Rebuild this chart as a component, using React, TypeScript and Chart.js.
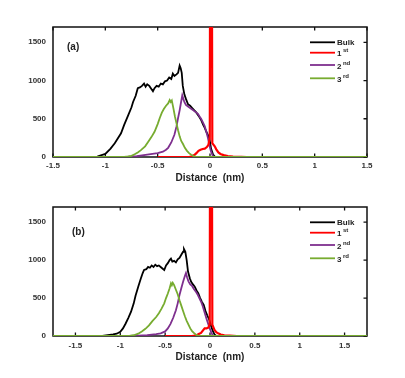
import React, { useEffect, useRef } from 'react';
import { Chart, registerables } from 'chart.js';

Chart.register(...registerables);

// ---------- data (Distance nm, count) ----------
const xTicksA = [-1.5, -1, -0.5, 0, 0.5, 1, 1.5];
const xTicksB = [-1.5, -1, -0.5, 0, 0.5, 1, 1.5];
const yTicks = [0, 500, 1000, 1500];
const legendMain = ['Bulk', '1', '2', '3'];
const legendSup = ['', 'st', 'nd', 'rd'];
const seriesColors = ['#000000', '#ff0000', '#7E2F8E', '#77AC30'];

const bulkA: [number, number][] = [
  [-1.5, 0], [-1.08, 0], [-1.07, 10], [-1.0, 40], [-0.95, 110], [-0.91, 180], [-0.85, 310], [-0.82, 420],
  [-0.78, 550], [-0.75, 650], [-0.735, 720], [-0.71, 800], [-0.69, 900], [-0.67, 910], [-0.65, 930], [-0.63, 960],
  [-0.615, 920], [-0.6, 950], [-0.58, 930], [-0.56, 890], [-0.545, 860], [-0.53, 900], [-0.51, 930], [-0.49, 920],
  [-0.47, 960], [-0.45, 950], [-0.43, 990], [-0.41, 1000], [-0.39, 1040], [-0.37, 1020], [-0.355, 1090], [-0.34, 1060],
  [-0.32, 1080], [-0.305, 1100], [-0.29, 1195], [-0.28, 1160], [-0.27, 1100], [-0.26, 930], [-0.245, 820], [-0.23, 760],
  [-0.21, 690], [-0.19, 670], [-0.17, 640], [-0.15, 610], [-0.13, 580], [-0.115, 550], [-0.1, 520], [-0.083, 480],
  [-0.065, 420], [-0.05, 380], [-0.035, 330], [-0.02, 290], [-0.005, 240], [0.01, 110], [0.03, 30], [0.05, 0], [1.5, 0],
];
const firstA: [number, number][] = [
  [-0.5, 0], [-0.2, 0], [-0.17, 10], [-0.15, 25], [-0.13, 50], [-0.11, 80], [-0.09, 95], [-0.07, 105], [-0.05, 110],
  [-0.03, 130], [-0.015, 160], [-0.002, 250], [0.004, 5000], [0.014, 5000], [0.022, 180], [0.045, 140], [0.06, 100],
  [0.08, 60], [0.1, 40], [0.13, 25], [0.17, 12], [0.22, 6], [0.3, 2], [0.35, 0], [1.5, 0],
];
const secondA: [number, number][] = [
  [-1.5, 0], [-0.8, 0], [-0.7, 10], [-0.6, 30], [-0.5, 50], [-0.45, 70], [-0.42, 95], [-0.4, 120], [-0.37, 190],
  [-0.34, 290], [-0.32, 400], [-0.305, 510], [-0.29, 610], [-0.28, 690], [-0.265, 805], [-0.255, 760], [-0.245, 720],
  [-0.23, 680], [-0.21, 660], [-0.19, 640], [-0.17, 620], [-0.15, 600], [-0.13, 580], [-0.115, 565], [-0.1, 530],
  [-0.085, 500], [-0.07, 460], [-0.05, 400], [-0.035, 330], [-0.02, 250], [-0.005, 150], [0.01, 70], [0.03, 5], [0.05, 0], [1.5, 0],
];
const thirdA: [number, number][] = [
  [-1.5, 0], [-0.82, 0], [-0.78, 8], [-0.75, 15], [-0.72, 35], [-0.69, 60], [-0.66, 90], [-0.62, 140], [-0.59, 200],
  [-0.56, 260], [-0.53, 330], [-0.5, 430], [-0.48, 510], [-0.46, 580], [-0.44, 630], [-0.42, 670], [-0.4, 700],
  [-0.385, 745], [-0.375, 720], [-0.365, 740], [-0.35, 640], [-0.335, 530], [-0.32, 440], [-0.305, 350], [-0.29, 270],
  [-0.275, 210], [-0.258, 170], [-0.24, 120], [-0.22, 80], [-0.2, 50], [-0.18, 30], [-0.16, 15], [-0.14, 5], [-0.12, 0], [1.5, 0],
];

const bulkB: [number, number][] = [
  [-1.75, 0], [-1.2, 0], [-1.14, 10], [-1.08, 20], [-1.04, 30], [-1.0, 55], [-0.97, 100], [-0.94, 165], [-0.91, 240],
  [-0.88, 320], [-0.85, 430], [-0.83, 530], [-0.8, 650], [-0.77, 760], [-0.75, 830], [-0.735, 870], [-0.71, 880],
  [-0.69, 910], [-0.67, 900], [-0.65, 930], [-0.63, 910], [-0.61, 940], [-0.59, 920], [-0.57, 930], [-0.55, 910],
  [-0.53, 890], [-0.51, 870], [-0.49, 930], [-0.47, 960], [-0.45, 1000], [-0.435, 1020], [-0.42, 980], [-0.4, 990],
  [-0.38, 970], [-0.36, 1010], [-0.34, 1030], [-0.32, 1070], [-0.3, 1110], [-0.29, 1145], [-0.275, 1110], [-0.26, 1000],
  [-0.245, 850], [-0.225, 760], [-0.21, 715], [-0.19, 680], [-0.17, 650], [-0.15, 600], [-0.13, 560], [-0.11, 500],
  [-0.09, 450], [-0.07, 410], [-0.05, 330], [-0.03, 270], [-0.01, 220], [0.01, 140], [0.03, 70], [0.05, 20], [0.07, 0], [1.75, 0],
];
const firstB: [number, number][] = [
  [-0.5, 0], [-0.2, 0], [-0.15, 10], [-0.12, 30], [-0.1, 40], [-0.08, 70], [-0.06, 100], [-0.04, 100], [-0.02, 110],
  [-0.003, 150], [0.004, 5000], [0.016, 5000], [0.026, 150], [0.05, 80], [0.07, 50], [0.09, 35], [0.12, 20],
  [0.16, 10], [0.22, 5], [0.3, 0], [1.75, 0],
];
const secondB: [number, number][] = [
  [-1.75, 0], [-0.9, 0], [-0.8, 5], [-0.7, 12], [-0.6, 25], [-0.55, 35], [-0.5, 60], [-0.47, 100], [-0.44, 160],
  [-0.41, 240], [-0.38, 340], [-0.36, 430], [-0.34, 540], [-0.32, 630], [-0.3, 715], [-0.28, 790], [-0.268, 830],
  [-0.255, 770], [-0.24, 720], [-0.22, 680], [-0.2, 660], [-0.18, 620], [-0.155, 580], [-0.135, 540], [-0.115, 490],
  [-0.095, 440], [-0.08, 390], [-0.06, 310], [-0.04, 230], [-0.02, 160], [0.0, 90], [0.02, 30], [0.035, 0], [1.75, 0],
];
const thirdB: [number, number][] = [
  [-1.75, 0], [-0.9, 0], [-0.85, 10], [-0.8, 30], [-0.76, 60], [-0.72, 95], [-0.68, 140], [-0.64, 200], [-0.6, 250],
  [-0.57, 300], [-0.54, 360], [-0.51, 430], [-0.49, 500], [-0.47, 560], [-0.45, 630], [-0.435, 695], [-0.425, 670],
  [-0.415, 700], [-0.4, 670], [-0.38, 610], [-0.36, 550], [-0.34, 470], [-0.32, 400], [-0.3, 330], [-0.28, 260],
  [-0.26, 200], [-0.24, 150], [-0.22, 100], [-0.2, 65], [-0.18, 40], [-0.16, 20], [-0.14, 8], [-0.12, 0], [1.75, 0],
];

const FONT = '"Liberation Sans", Arial, sans-serif';

type PanelCfg = {
  top: number;
  height: number;
  padTop: number;
  axisH: number;
  tickPad: number;
  titlePad: number;
  xMin: number;
  xMax: number;
  xTicks: number[];
  series: [number, number][][];
  label: string;
  labelDx: number;
  labelDy: number;
};

const decorPlugin = {
  id: 'decor',
  beforeDatasetsDraw(chart: any, _args: any, opts: any) {
    const { ctx, chartArea: a, scales } = chart;
    ctx.save();
    ctx.strokeStyle = '#111';
    ctx.lineWidth = 1.5;
    ctx.strokeRect(a.left, a.top, a.right - a.left, a.bottom - a.top);
    ctx.lineWidth = 1.3;
    ctx.beginPath();
    for (const v of opts.xTicks) {
      const px = scales.x.getPixelForValue(v);
      ctx.moveTo(px, a.top);
      ctx.lineTo(px, a.top + 3.5);
      ctx.moveTo(px, a.bottom);
      ctx.lineTo(px, a.bottom - 3.5);
    }
    for (const v of yTicks) {
      const py = scales.y.getPixelForValue(v);
      ctx.moveTo(a.right, py);
      ctx.lineTo(a.right - 3.5, py);
    }
    ctx.stroke();
    ctx.restore();
  },
  afterDatasetsDraw(chart: any, _args: any, opts: any) {
    const { ctx, chartArea: a } = chart;
    ctx.save();
    ctx.fillStyle = '#222';
    ctx.textBaseline = 'middle';
    ctx.textAlign = 'left';
    ctx.font = `bold 10px ${FONT}`;
    ctx.fillText(opts.label, a.left + opts.labelDx, a.top + opts.labelDy);

    const rows = [15.3, 25.7, 38, 51.3];
    legendMain.forEach((txt, i) => {
      const y = a.top + rows[i];
      ctx.strokeStyle = seriesColors[i];
      ctx.lineWidth = 1.8;
      ctx.beginPath();
      ctx.moveTo(a.right - 57, y);
      ctx.lineTo(a.right - 32, y);
      ctx.stroke();
      ctx.fillStyle = '#222';
      ctx.font = `bold 8px ${FONT}`;
      const ty = legendSup[i] ? y + 1.5 : y;
      ctx.fillText(txt, a.right - 30, ty);
      if (legendSup[i]) {
        const w = ctx.measureText(txt).width;
        ctx.font = `bold 6px ${FONT}`;
        ctx.fillText(legendSup[i], a.right - 30 + w + 1.5, ty - 3.5);
      }
    });
    ctx.restore();
  },
};

function Panel({ cfg }: { cfg: PanelCfg }) {
  const ref = useRef<HTMLCanvasElement | null>(null);
  useEffect(() => {
    if (!ref.current) return;
    const orders = [3, 1, 2, 0];
    const chart = new Chart(ref.current, {
      type: 'line',
      data: {
        datasets: cfg.series.map((s, i) => ({
          label: legendMain[i] + legendSup[i],
          data: s.map(([x, y]) => ({ x, y })),
          borderColor: seriesColors[i],
          borderWidth: i === 1 ? 2.2 : 1.8,
          pointRadius: 0,
          tension: 0,
          fill: false,
          order: orders[i],
        })),
      },
      options: {
        responsive: false,
        maintainAspectRatio: false,
        devicePixelRatio: 1,
        animation: false,
        events: [],
        layout: { padding: { top: cfg.padTop, right: 38, left: 0, bottom: 0 } },
        plugins: {
          legend: { display: false },
          tooltip: { enabled: false },
          decor: { xTicks: cfg.xTicks, label: cfg.label, labelDx: cfg.labelDx, labelDy: cfg.labelDy },
        } as any,
        scales: {
          x: {
            type: 'linear',
            position: 'bottom',
            min: cfg.xMin,
            max: cfg.xMax,
            grid: { display: false, drawTicks: false },
            border: { display: false },
            afterBuildTicks: (s: any) => {
              s.ticks = cfg.xTicks.map((v) => ({ value: v }));
            },
            afterFit: (s: any) => {
              s.height = cfg.axisH;
            },
            ticks: {
              autoSkip: false,
              maxRotation: 0,
              padding: cfg.tickPad,
              color: '#333',
              font: { family: FONT, size: 8, weight: 'bold' },
              callback: (v: any) => String(v),
            },
            title: {
              display: true,
              text: 'Distance  (nm)',
              color: '#222',
              font: { family: FONT, size: 10, weight: 'bold' },
              padding: { top: 0, bottom: cfg.titlePad },
            },
          },
          y: {
            type: 'linear',
            min: 0,
            max: 1700,
            grid: { display: false, drawTicks: false },
            border: { display: false },
            afterBuildTicks: (s: any) => {
              s.ticks = yTicks.map((v) => ({ value: v }));
            },
            afterFit: (s: any) => {
              s.width = 53;
            },
            ticks: {
              padding: 7,
              color: '#333',
              font: { family: FONT, size: 8, weight: 'bold' },
              callback: (v: any) => String(v),
            },
          },
        },
      } as any,
      plugins: [decorPlugin],
    });
    return () => chart.destroy();
  }, [cfg]);
  return (
    <canvas
      ref={ref}
      width={405}
      height={cfg.height}
      style={{ position: 'absolute', left: 0, top: cfg.top, width: 405, height: cfg.height, display: 'block' }}
    />
  );
}

const panelA: PanelCfg = {
  top: 0, height: 189, padTop: 27, axisH: 32, tickPad: 4, titlePad: 5,
  xMin: -1.5, xMax: 1.5, xTicks: xTicksA,
  series: [bulkA, firstA, secondA, thirdA],
  label: '(a)', labelDx: 14, labelDy: 20,
};
const panelB: PanelCfg = {
  top: 189, height: 189, padTop: 18, axisH: 42, tickPad: 5, titlePad: 14.5,
  xMin: -1.75, xMax: 1.75, xTicks: xTicksB,
  series: [bulkB, firstB, secondB, thirdB],
  label: '(b)', labelDx: 19, labelDy: 25,
};

export default function App() {
  return (
    <div style={{ position: 'absolute', left: 0, top: 0, width: 405, height: 378, background: '#fff' }}>
      <Panel cfg={panelA} />
      <Panel cfg={panelB} />
    </div>
  );
}
